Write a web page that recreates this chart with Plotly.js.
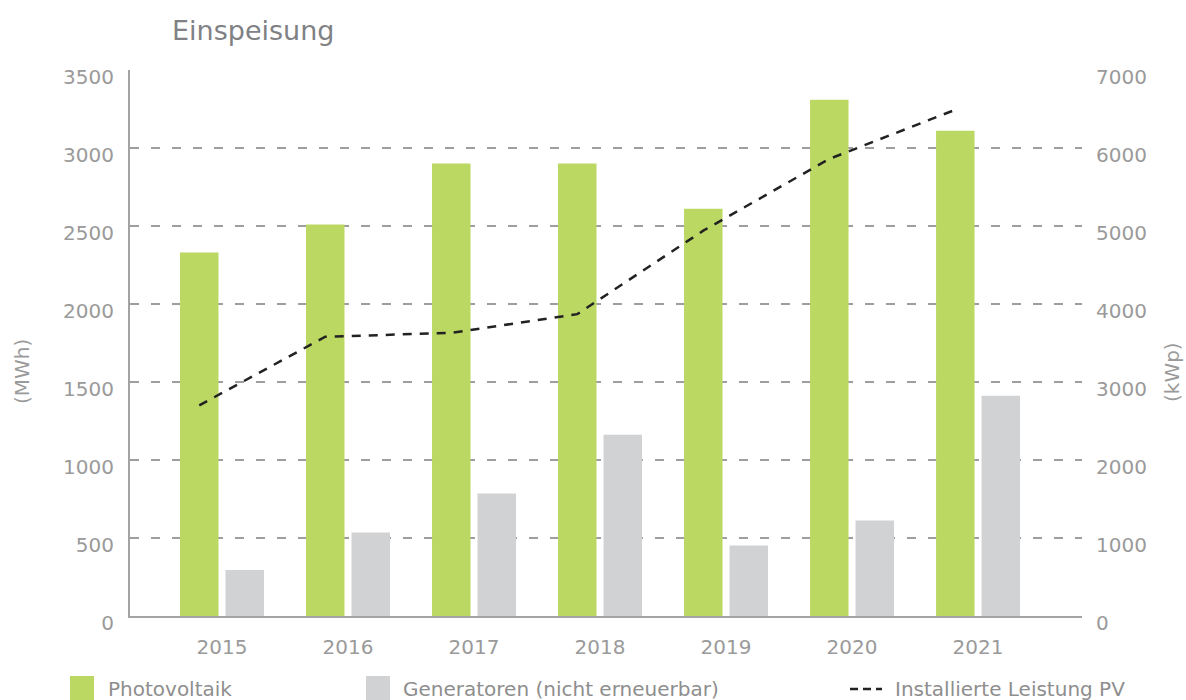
<!DOCTYPE html>
<html>
<head>
<meta charset="utf-8">
<script src="https://cdn.plot.ly/plotly-3.0.1.min.js"></script>
<style>
  html, body { margin: 0; padding: 0; background: #ffffff; }
  #chart { width: 1186px; height: 700px; }
</style>
</head>
<body>
<div id="chart"></div>
<script>
// ---- data ----
const years = ['2015', '2016', '2017', '2018', '2019', '2020', '2021'];
const photovoltaik = [2330, 2510, 2900, 2900, 2610, 3310, 3110];      // MWh
const generatoren = [295, 535, 785, 1162, 452, 612, 1412];            // MWh
const leistungPV = [2700, 3580, 3630, 3870, 4940, 5860, 6490];        // kWp
const leftTicks = [0, 500, 1000, 1500, 2000, 2500, 3000, 3500];
const rightTicks = [0, 1000, 2000, 3000, 4000, 5000, 6000, 7000];
const seriesNames = ['Photovoltaik', 'Generatoren (nicht erneuerbar)', 'Installierte Leistung PV'];
const chartTitle = 'Einspeisung';
const leftTitle = '(MWh)';
const rightTitle = '(kWp)';

// ---- styling ----
const GREEN = '#bbd863';
const GREY = '#d1d2d4';
const LINE = '#222222';
const TXT = '#9a9a9a';
const FONT = 'DejaVu Sans, Liberation Sans, sans-serif';

const W = 1186, H = 700;
const M = { l: 130, r: 104, t: 70, b: 84 };
const PW = W - M.l - M.r, PH = H - M.t - M.b;
const px = x => (x - M.l) / PW;
const py = y => (M.t + PH - y) / PH;

const bargap = 0.278;
const bargroupgap = 0.154;
const idx = years.map((_, i) => i);
// line points sit on the centre of the first (green) bar of each group
const lineShift = -(1 - bargap) / 4;
const lineX = idx.map(i => i + lineShift);

const traces = [
  { type: 'bar', name: seriesNames[0], x: idx, y: photovoltaik,
    marker: { color: GREEN }, yaxis: 'y', hoverinfo: 'y' },
  { type: 'bar', name: seriesNames[1], x: idx, y: generatoren,
    marker: { color: GREY }, yaxis: 'y', hoverinfo: 'y' },
  { type: 'scatter', mode: 'lines', name: seriesNames[2], x: lineX, y: leistungPV,
    line: { color: LINE, width: 2.5, dash: '9px,8px' }, yaxis: 'y2', hoverinfo: 'y' }
];

const legendY = 689;
const shapes = [
  { type: 'rect', xref: 'paper', yref: 'paper', x0: px(70), x1: px(94), y0: py(700), y1: py(676),
    fillcolor: GREEN, line: { width: 0 } },
  { type: 'rect', xref: 'paper', yref: 'paper', x0: px(366), x1: px(390), y0: py(700), y1: py(676),
    fillcolor: GREY, line: { width: 0 } },
  { type: 'line', xref: 'paper', yref: 'paper', x0: px(850), x1: px(882), y0: py(legendY), y1: py(legendY),
    line: { color: LINE, width: 2.5, dash: '8px,5px' } }
];
const legendTextX = [106, 401, 893];
const annotations = seriesNames.map((n, i) => ({
  text: n, xref: 'paper', yref: 'paper', x: px(legendTextX[i]), y: py(legendY),
  xanchor: 'left', yanchor: 'middle', showarrow: false,
  font: { family: FONT, size: 20, color: '#8e8e8e' }
}));
// axis titles
annotations.push({
  text: leftTitle, xref: 'paper', yref: 'paper', x: px(22), y: py(372),
  xanchor: 'center', yanchor: 'middle', textangle: -90, showarrow: false,
  font: { family: FONT, size: 20, color: TXT }
});
annotations.push({
  text: rightTitle, xref: 'paper', yref: 'paper', x: px(1172), y: py(372),
  xanchor: 'center', yanchor: 'middle', textangle: -90, showarrow: false,
  font: { family: FONT, size: 20, color: TXT }
});

const layout = {
  width: W, height: H,
  margin: M,
  paper_bgcolor: '#ffffff', plot_bgcolor: '#ffffff',
  showlegend: false,
  barmode: 'group', bargap: bargap, bargroupgap: bargroupgap,
  font: { family: FONT, size: 20, color: TXT },
  title: { text: chartTitle, xref: 'container', yref: 'container',
    x: 172 / W, xanchor: 'left', y: 1 - 31 / H, yanchor: 'middle',
    font: { family: FONT, size: 27, color: '#7f8184' } },
  xaxis: {
    type: 'linear', range: [-0.73, 6.825],
    tickvals: idx, ticktext: years, ticks: '',
    showline: true, linecolor: '#a3a3a3', linewidth: 2,
    showgrid: false, zeroline: false,
    ticklabelstandoff: 12,
    tickfont: { family: FONT, size: 20, color: TXT }
  },
  yaxis: {
    range: [0, 3500], tickvals: leftTicks, ticks: '',
    showline: true, linecolor: '#a3a3a3', linewidth: 2,
    showgrid: true, gridcolor: '#9e9e9e', gridwidth: 1.5, griddash: '9px,12px',
    zeroline: false,
    ticklabelstandoff: 10, ticklabelshift: 7,
    tickfont: { family: FONT, size: 20, color: TXT }
  },
  yaxis2: {
    overlaying: 'y', side: 'right',
    range: [0, 7000], tickvals: rightTicks, ticks: '',
    showline: false, showgrid: false, zeroline: false,
    ticklabelstandoff: 13, ticklabelshift: 7,
    tickfont: { family: FONT, size: 20, color: TXT }
  },
  shapes: shapes,
  annotations: annotations
};

Plotly.newPlot('chart', traces, layout, { displayModeBar: false, staticPlot: true });
</script>
</body>
</html>
